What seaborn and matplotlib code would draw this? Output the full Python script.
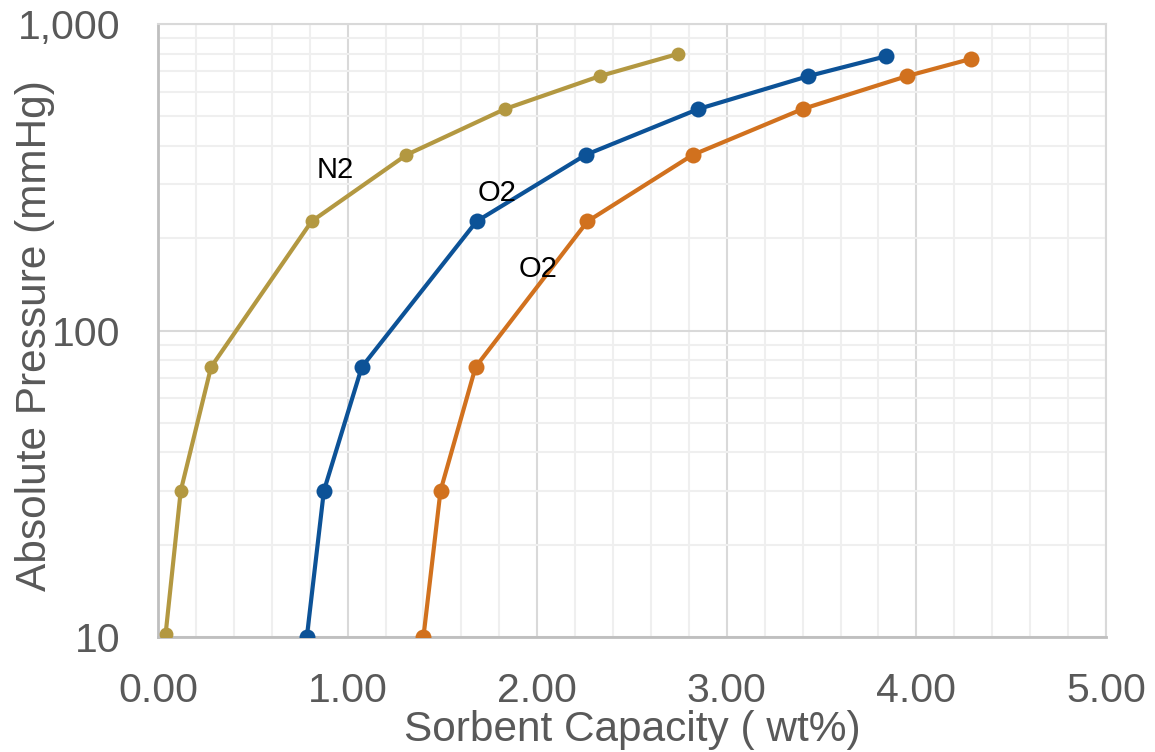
import numpy as np
import pandas as pd
import matplotlib
matplotlib.use("Agg")
import matplotlib.pyplot as plt
from matplotlib.ticker import FixedLocator, FuncFormatter, MultipleLocator, LogLocator, NullFormatter
import seaborn as sns

# Data
n2_x = [0.04, 0.12, 0.28, 0.81, 1.31, 1.83, 2.33, 2.74]
n2_y = [10.2, 30, 76, 227, 374, 528, 676, 798]
o2a_x = [0.785, 0.875, 1.075, 1.68, 2.255, 2.85, 3.43, 3.84]
o2a_y = [10, 30, 76, 227, 374, 528, 676, 785]
o2b_x = [1.40, 1.49, 1.675, 2.265, 2.82, 3.40, 3.95, 4.29]
o2b_y = [10, 30, 76, 227, 374, 528, 676, 770]
series_names = ["N2", "O2 (a)", "O2 (b)"]
x_ticks = [0, 1, 2, 3, 4, 5]
y_ticks = [10, 100, 1000]
x_label = "Sorbent Capacity ( wt%)"
y_label = "Absolute Pressure (mmHg)"
annotations = [("N2", 0.935, 334), ("O2", 1.79, 281), ("O2", 2.005, 159)]

colors = {"N2": "#B39841", "O2 (a)": "#0C5297", "O2 (b)": "#D1711E"}
sizes = {"N2": 10, "O2 (a)": 11.5, "O2 (b)": 11.5}

df = pd.concat([
    pd.DataFrame({"x": n2_x, "y": n2_y, "s": "N2"}),
    pd.DataFrame({"x": o2a_x, "y": o2a_y, "s": "O2 (a)"}),
    pd.DataFrame({"x": o2b_x, "y": o2b_y, "s": "O2 (b)"}),
])

sns.set_style("white")
plt.rcParams["font.family"] = ["Liberation Sans", "DejaVu Sans"]

fig = plt.figure(figsize=(11.55, 7.52), dpi=100)
ax = fig.add_axes([158/1155, 1-637/752, (1106-158)/1155, (637-24)/752])

for name in series_names:
    sub = df[df["s"] == name]
    sns.lineplot(data=sub, x="x", y="y", sort=False, ax=ax, color=colors[name],
                 linewidth=3, marker="o", markersize=sizes[name],
                 markeredgewidth=0, legend=False, zorder=3)

ax.set_yscale("log")
ax.set_xlim(0, 5)
ax.set_ylim(10, 1000)

ax.xaxis.set_major_locator(FixedLocator(x_ticks))
ax.xaxis.set_minor_locator(MultipleLocator(0.2))
ax.xaxis.set_major_formatter(FuncFormatter(lambda v, p: f"{v:.2f}"))
ax.yaxis.set_major_locator(FixedLocator(y_ticks))
ax.yaxis.set_minor_locator(LogLocator(base=10, subs=np.arange(2, 10)))
ax.yaxis.set_minor_formatter(NullFormatter())
ax.yaxis.set_major_formatter(FuncFormatter(lambda v, p: f"{int(v):,}"))

ax.grid(which="major", color="#D9D9D9", linewidth=1.5, zorder=0)
ax.grid(which="minor", color="#EFEFEF", linewidth=1.5, zorder=0)
ax.set_axisbelow(True)

for side in ["top", "right"]:
    ax.spines[side].set_color("#D9D9D9")
    ax.spines[side].set_linewidth(1.5)
for side in ["left", "bottom"]:
    ax.spines[side].set_color("#BFBFBF")
    ax.spines[side].set_linewidth(2)

ax.tick_params(axis="x", which="major", labelsize=29.5, labelcolor="#595959", length=0, pad=25)
ax.tick_params(axis="x", which="minor", length=0)
ax.tick_params(axis="y", which="major", labelsize=29.5, labelcolor="#595959",
               direction="in", length=9, width=1.5, color="#C8C8C8", pad=27)
ax.tick_params(axis="y", which="minor", direction="in", length=9, width=1.5, color="#C8C8C8")

ax.set_xlabel(x_label, fontsize=30.5, color="#595959", labelpad=0)
ax.set_ylabel(y_label, fontsize=30.5, color="#595959")
ax.yaxis.set_label_coords(-0.109, 0.491)

for txt, xv, yv in annotations:
    ax.annotate(txt, xy=(xv, yv), fontsize=21, color="black", ha="center", va="center")

fig.savefig("out.png", dpi=100)
